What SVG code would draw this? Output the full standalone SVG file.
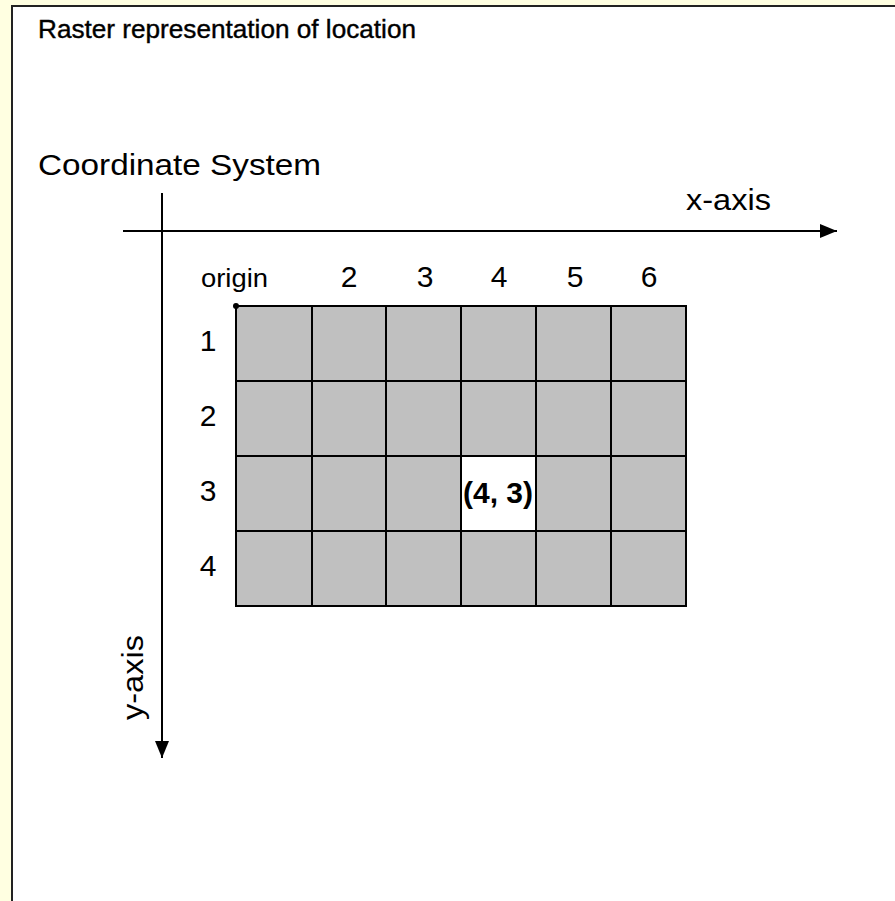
<svg xmlns="http://www.w3.org/2000/svg" width="895" height="901" viewBox="0 0 895 901">
<defs>
<style>
.t{font-family:"Liberation Sans",Arial,sans-serif;fill:#000;}
.cell{fill:#c0c0c0;stroke:#000;stroke-width:2;}
.ax{stroke:#000;stroke-width:2;fill:none;}
</style>
<marker id="ah" viewBox="0 0 17 14" refX="17" refY="7" markerWidth="17" markerHeight="14" markerUnits="userSpaceOnUse" orient="auto">
<path d="M0,0 L17,7 L0,14 Z" fill="#000"/>
</marker>
</defs>
<rect x="0" y="0" width="895" height="901" fill="#ffffe1"/>
<rect x="12" y="6" width="883" height="895" fill="#fff"/>
<line x1="12" y1="6" x2="12" y2="901" stroke="#222" stroke-width="2"/>
<line x1="11" y1="6" x2="895" y2="6" stroke="#222" stroke-width="2"/>

<g id="title"><text class="t" x="38" y="38" font-size="26" stroke="#000" stroke-width="0.4" textLength="378" lengthAdjust="spacingAndGlyphs">Raster representation of location</text></g>
<g id="coord-label"><text class="t" x="38" y="175" font-size="30" textLength="283" lengthAdjust="spacingAndGlyphs">Coordinate System</text></g>

<g id="connectors">
<line class="ax" x1="123" y1="231" x2="837" y2="231" marker-end="url(#ah)"/>
<line class="ax" x1="162" y1="193" x2="162" y2="758" marker-end="url(#ah)"/>
</g>

<g id="x-axis-label"><text class="t" x="686" y="210" font-size="29" textLength="85" lengthAdjust="spacingAndGlyphs">x-axis</text></g>
<g id="y-axis-label"><text class="t" transform="translate(143,720) rotate(-90)" x="0" y="0" font-size="29" textLength="85" lengthAdjust="spacingAndGlyphs">y-axis</text></g>

<g id="col-labels" font-size="30" text-anchor="middle">
<text class="t" x="201" y="287" font-size="26" text-anchor="start" textLength="67" lengthAdjust="spacingAndGlyphs">origin</text>
<text class="t" x="349" y="287">2</text>
<text class="t" x="425" y="287">3</text>
<text class="t" x="499" y="287">4</text>
<text class="t" x="575" y="287">5</text>
<text class="t" x="649" y="287">6</text>
</g>
<g id="row-labels" font-size="30" text-anchor="middle">
<text class="t" x="208" y="351">1</text>
<text class="t" x="208" y="426">2</text>
<text class="t" x="208" y="501">3</text>
<text class="t" x="208" y="576">4</text>
</g>

<g id="grid">
<rect class="cell" x="236" y="306" width="450" height="300"/>
<rect x="461" y="456" width="75" height="75" fill="#fff"/>
<path class="ax" d="M312,306V606M386,306V606M461,306V606M536,306V606M611,306V606M236,381H686M236,456H686M236,531H686"/>
<rect x="236" y="306" width="450" height="300" fill="none" stroke="#000" stroke-width="2"/>
</g>
<g id="origin"><circle cx="236" cy="306" r="3" fill="#000"/></g>
<g id="cell-4-3"><text class="t" x="498" y="503" font-size="29" font-weight="bold" text-anchor="middle" textLength="70" lengthAdjust="spacingAndGlyphs">(4, 3)</text></g>
</svg>
